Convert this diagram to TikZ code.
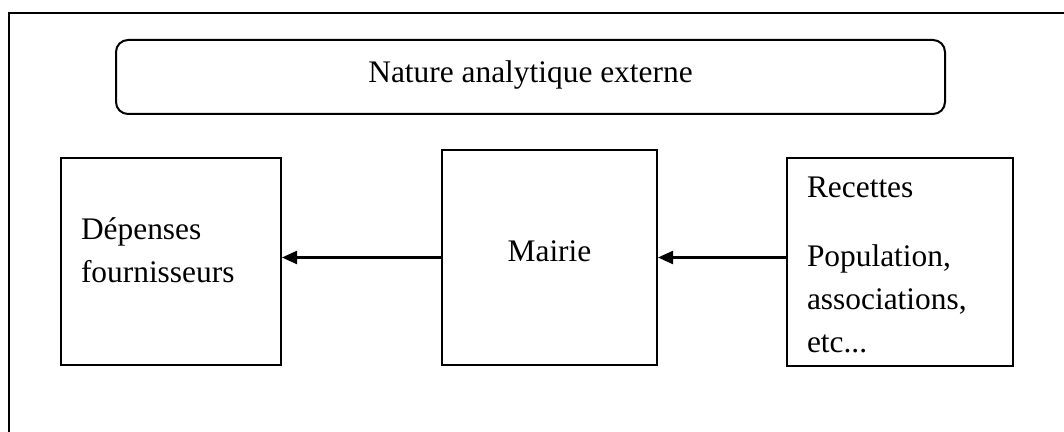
\documentclass[tikz,border=0pt]{standalone}
\usepackage{fontspec}
\setmainfont{Liberation Serif}
\usepackage{tikz}
\usetikzlibrary{arrows.meta}
\tikzset{
  box/.style={rectangle, draw=black, line width=1pt, align=left,
    inner xsep=10pt, font=\fontsize{15.7}{21.5}\selectfont},
  titlebox/.style={rectangle, draw=black, line width=1pt,
    rounded corners=6pt, font=\fontsize{15.7}{21.5}\selectfont},
  arrow/.style={-{Triangle[length=7.5pt, width=6.5pt]}, line width=1.1pt, color=black}
}
\begin{document}
\begin{tikzpicture}[x=0.5pt, y=-0.5pt]
  % Page and outer frame
  \useasboundingbox (0,0) rectangle (1064,432);
  \clip (0,0) rectangle (1064,432);
  \draw[line width=1.2pt] (9,13) rectangle (1100,470);

  % Title
  \node[titlebox, minimum width=414.5pt, minimum height=37pt, text depth=5pt] (titre) at (530.5,77) {Nature analytique externe};

  % Blocks
  \node[box, text width=90pt, minimum width=110pt, minimum height=103.5pt, text depth=32.5pt] (depenses) at (171,261.5) {Dépenses\\fournisseurs};
  \node[box, align=center, minimum width=107.5pt, minimum height=107.5pt, text depth=6pt] (mairie) at (549.5,257.5) {Mairie};
  \node[box, text width=93pt, minimum width=113pt, minimum height=104pt, text depth=74.4pt] (recettes) at (900,262) {Recettes\\[13pt]Population,\\associations,\\etc...};

  % Flows
  \draw[arrow] (mairie.west) -- (depenses.east |- mairie.west);
  \draw[arrow] (recettes.west |- mairie.east) -- (mairie.east);
\end{tikzpicture}
\end{document}
